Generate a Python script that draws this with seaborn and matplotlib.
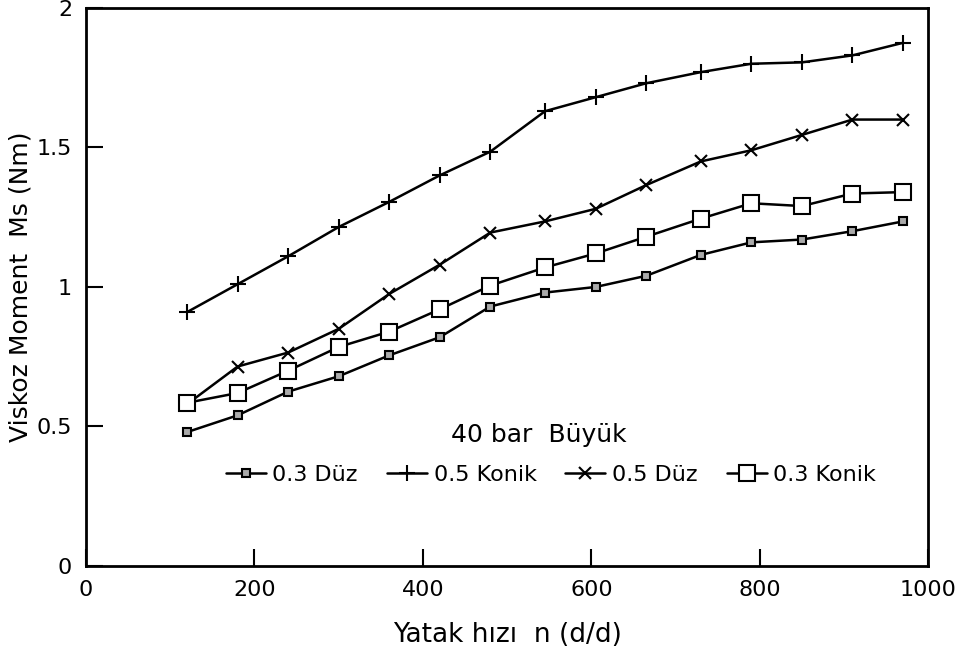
import pandas as pd
import matplotlib.pyplot as plt
import seaborn as sns

# bearing speed n (d/d)
speed = [120, 180, 240, 300, 360, 420, 480, 545, 605, 665, 730, 790, 850, 910, 970]

# viscous moment Ms (Nm) per bearing type
duz_03 = [0.48, 0.54, 0.625, 0.68, 0.755, 0.82, 0.93, 0.98, 1.0, 1.04, 1.115, 1.16, 1.17, 1.20, 1.235]
konik_05 = [0.91, 1.01, 1.11, 1.215, 1.305, 1.40, 1.485, 1.63, 1.68, 1.73, 1.77, 1.80, 1.805, 1.83, 1.875]
duz_05 = [0.58, 0.715, 0.765, 0.85, 0.975, 1.08, 1.195, 1.235, 1.28, 1.365, 1.45, 1.49, 1.545, 1.60, 1.60]
konik_03 = [0.585, 0.62, 0.70, 0.785, 0.84, 0.92, 1.005, 1.07, 1.12, 1.18, 1.245, 1.30, 1.29, 1.335, 1.34]

series_names = ['0.3 Düz', '0.5 Konik', '0.5 Düz', '0.3 Konik']
series_values = [duz_03, konik_05, duz_05, konik_03]

x_ticks = [0, 200, 400, 600, 800, 1000]
y_ticks = [0, 0.5, 1, 1.5, 2]
y_tick_labels = ['0', '0.5', '1', '1.5', '2']

sns.set_style('white')
plt.rcParams['font.family'] = ['DejaVu Sans']
plt.rcParams['text.color'] = 'black'
plt.rcParams['axes.labelcolor'] = 'black'
plt.rcParams['xtick.color'] = 'black'
plt.rcParams['ytick.color'] = 'black'

fig = plt.figure(figsize=(9.56, 6.62), dpi=100)
ax = fig.add_axes([0.090, 0.145, 0.881, 0.843])

# marker style per series: (marker, size, face colour)
styles = {
    '0.3 Düz': ('s', 6, '#aaaaaa'),
    '0.5 Konik': ('+', 11, 'none'),
    '0.5 Düz': ('x', 9, 'none'),
    '0.3 Konik': ('s', 11, 'white'),
}

for name, vals in zip(series_names, series_values):
    df = pd.DataFrame({'n': speed, 'Ms': vals})
    marker, size, face = styles[name]
    sns.lineplot(data=df, x='n', y='Ms', ax=ax, color='black', linewidth=1.8,
                 marker=marker, markersize=size, markerfacecolor=face,
                 markeredgecolor='black', markeredgewidth=1.5, label=name)

ax.set_xlim(0, 1000)
ax.set_ylim(0, 2)
ax.set_xticks(x_ticks)
ax.set_yticks(y_ticks)
ax.set_yticklabels(y_tick_labels)
ax.tick_params(bottom=True, left=True, direction='in', length=12, width=1.5,
               labelsize=16, pad=10)

for s in ax.spines.values():
    s.set_color('black')
    s.set_linewidth(2)

ax.set_xlabel('Yatak hızı  n (d/d)', fontsize=19, labelpad=16)
ax.set_ylabel('Viskoz Moment  Ms (Nm)', fontsize=18, labelpad=3)

# legend title drawn as its own text so it sits where the original has it
ax.text(0.538, 0.235, '40 bar  Büyük', transform=ax.transAxes,
        ha='center', va='center', fontsize=18)
ax.legend(ncol=4, frameon=False, loc='center', bbox_to_anchor=(0.552, 0.163),
          fontsize=16, handlelength=1.8, columnspacing=1.3, handletextpad=0.3)

plt.savefig('out.png', dpi=100)
plt.close()
